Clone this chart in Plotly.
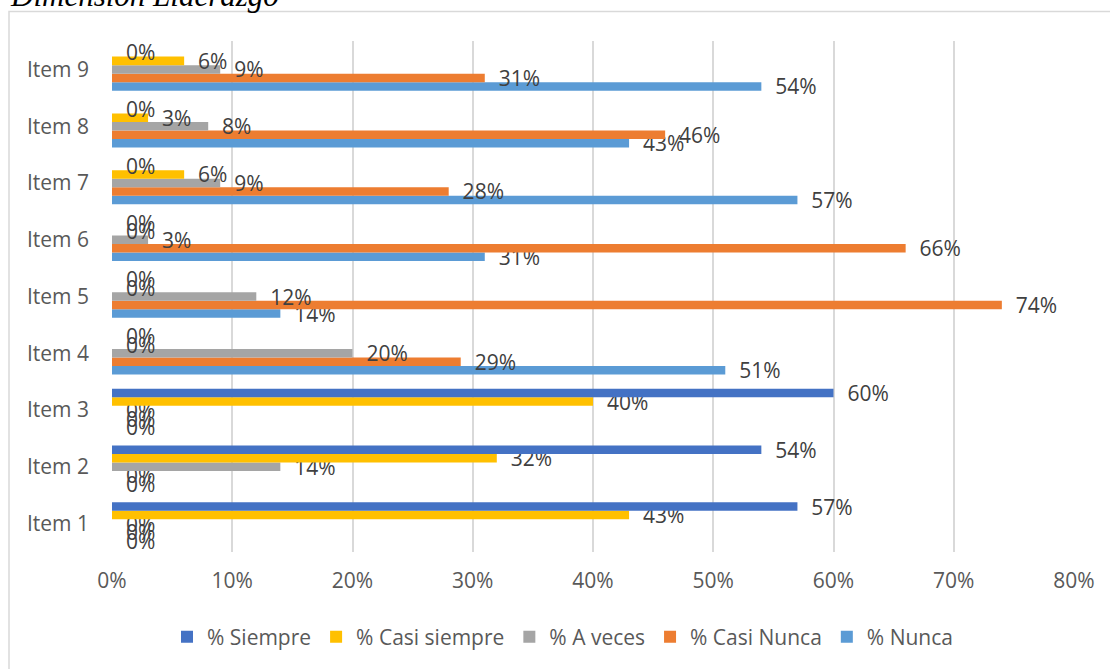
import plotly.graph_objects as go

items = ["Item 1", "Item 2", "Item 3", "Item 4", "Item 5", "Item 6", "Item 7", "Item 8", "Item 9"]
siempre      = [57, 54, 60, 0, 0, 0, 0, 0, 0]
casi_siempre = [43, 32, 40, 0, 0, 0, 6, 3, 6]
a_veces      = [0, 14, 0, 20, 12, 3, 9, 8, 9]
casi_nunca   = [0, 0, 0, 29, 74, 66, 28, 46, 31]
nunca        = [0, 0, 0, 51, 14, 31, 57, 43, 54]
x_ticks = [0, 10, 20, 30, 40, 50, 60, 70, 80]
x_tick_labels = ["0%", "10%", "20%", "30%", "40%", "50%", "60%", "70%", "80%"]

series = [
    ("% Nunca", nunca, "#5B9BD5"),
    ("% Casi Nunca", casi_nunca, "#ED7D31"),
    ("% A veces", a_veces, "#A5A5A5"),
    ("% Casi siempre", casi_siempre, "#FFC000"),
    ("% Siempre", siempre, "#4472C4"),
]

FONT = "Open Sans"
W, H = 1110, 669
L, R, T, B = 112, 36, 41, 117
pw, ph = W - L - R, H - T - B

fig = go.Figure()
for name, vals, col in series:
    fig.add_trace(go.Bar(
        y=items, x=vals, name=name, orientation="h",
        marker=dict(color=col, line=dict(width=0)),
        text=[f"{v}%" for v in vals],
        texttemplate="\u00a0\u00a0%{text}",
        textposition="outside",
        constraintext="none",
        cliponaxis=False,
        textfont=dict(family=FONT, size=21, color="#404040"),
        hoverinfo="skip",
    ))

fig.update_layout(
    width=W, height=H,
    margin=dict(l=L, r=R, t=T, b=B),
    paper_bgcolor="white", plot_bgcolor="white",
    barmode="group", bargap=0.25, bargroupgap=0,
    font=dict(family=FONT, size=21, color="#595959"),
    showlegend=True,
    legend=dict(
        orientation="h", traceorder="reversed",
        x=(167 - L) / pw, xanchor="left",
        y=(ph - (637 - T)) / ph, yanchor="middle",
        font=dict(family=FONT, size=21, color="#595959"),
        bgcolor="rgba(0,0,0,0)",
    ),
    xaxis=dict(
        range=[0, 80], tickmode="array", tickvals=x_ticks, ticktext=x_tick_labels,
        showgrid=True, gridcolor="#D9D9D9", gridwidth=1.5,
        zeroline=False, showline=False, ticks="",
        ticklabelstandoff=14,
        tickfont=dict(family=FONT, size=21, color="#595959"),
        fixedrange=True,
    ),
    yaxis=dict(
        categoryorder="array", categoryarray=items,
        showgrid=False, zeroline=False, showline=False, ticks="",
        ticklabelstandoff=22,
        tickfont=dict(family=FONT, size=21, color="#595959"),
        fixedrange=True,
    ),
    shapes=[dict(
        type="rect", xref="paper", yref="paper", layer="below",
        x0=(9 - L) / pw, x1=(W + 10 - L) / pw,
        y0=(ph - (H + 10 - T)) / ph, y1=(ph - (11.5 - T)) / ph,
        line=dict(color="#D9D9D9", width=1.5), fillcolor="rgba(0,0,0,0)",
    )],
    annotations=[dict(
        text="Dimensión Liderazgo", xref="paper", yref="paper",
        x=(8 - L) / pw, xanchor="left",
        y=(ph - (15 - T)) / ph, yanchor="bottom",
        showarrow=False,
        font=dict(family="Liberation Serif", size=31, color="black", style="italic"),
    )],
)

fig.write_html("out.html")
